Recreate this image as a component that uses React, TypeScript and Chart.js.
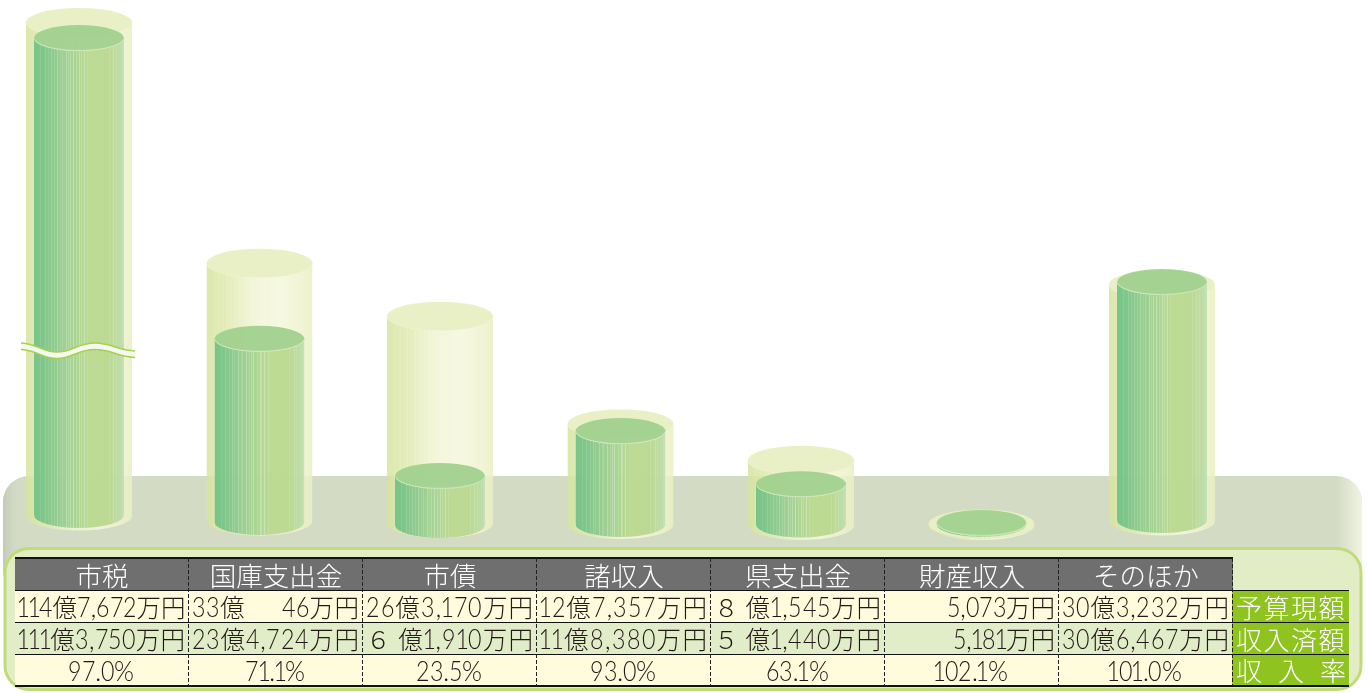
import React, { useEffect, useRef } from "react";
import { Chart, BarController, BarElement, CategoryScale, LinearScale } from "chart.js";

// ---------- data (億円) ----------
const categories = ["市税", "国庫支出金", "市債", "諸収入", "県支出金", "財産収入", "そのほか"];
const budgetValues = [114.7672, 33.0046, 26.317, 12.7357, 8.1545, 0.5073, 30.3232];
const receivedValues = [111.375, 23.4724, 6.191, 11.838, 5.144, 0.5181, 30.6467];
const budgetLabels = ["114億7,672万円", "33億　  46万円", "26億3,170万円", "12億7,357万円", "８ 億1,545万円", "5,073万円", "30億3,232万円"];
const receivedLabels = ["111億3,750万円", "23億4,724万円", "６ 億1,910万円", "11億8,380万円", "５ 億1,440万円", "5,181万円", "30億6,467万円"];
const rateLabels = ["97.0%", "71.1%", "23.5%", "93.0%", "63.1%", "102.1%", "101.0%"];
const rowHeads = ["予算現額", "収入済額", "収 入 率"];

// ---------- style constants ----------
const OUTER_BASE_SHIFT = [-9, -4, -1.5, -0.5, 0.5, 0.5, -4];
const INNER_BASE_SHIFT = [-10, -3, 0, -1, -0.5, -1, -5];
const TOP_SHIFT = [0, 0, 0, 0, 0, 3, 0];
const STRIPES: [number, number][] = [[0.07, 0.1], [0.12, 0.14], [0.16, 0.1], [0.19, 0.18], [0.22, 0.12], [0.26, 0.22], [0.29, 0.12], [0.31, 0.16], [0.35, 0.26], [0.38, 0.14], [0.4, 0.22], [0.43, 0.3], [0.47, 0.14], [0.5, 0.26], [0.52, 0.18], [0.55, 0.3], [0.59, 0.12], [0.83, 0.12], [0.88, 0.16], [0.91, 0.1]];
const INNER_STOPS: [number, string][] = [[0, "#70c184"], [0.1, "#76c386"], [0.3, "#93cb8d"], [0.5, "#aad48e"], [0.62, "#b8d88c"], [0.85, "#b8d78f"], [0.96, "#b9dba6"], [1, "#c5e0b5"]];
const OUTER_STOPS: [number, string][] = [[0, "#d6e49f"], [0.2, "#dfe9b0"], [0.45, "#f0f4d2"], [0.7, "#f4f7dc"], [0.9, "#eef2cc"], [1, "#e9efc3"]];

// Axis with a collapsed span, for the broken first column.
const squeeze = (v: number) => {
  if (v <= 40) return v;
  if (v <= 110) return 40 + ((v - 40) * 20.6) / 70;
  return 60.6 + (v - 110) * 0.58;
};
class BrokenScale extends LinearScale {
  static id = "brokenLinear";
  static defaults = LinearScale.defaults;
  getPixelForValue(value: number) {
    return super.getPixelForValue(squeeze(value));
  }
}

Chart.register(BarController, BarElement, CategoryScale, LinearScale, BrokenScale);

function drawCylinder(ctx: CanvasRenderingContext2D, x: number, top: number, base: number, w: number, ry: number, stops: [number, string][], cap: string, bodyAlpha: number, capAlpha: number, stripeScale: number, rim: boolean) {
  const l = x - w / 2;
  const r = x + w / 2;
  ctx.save();
  ctx.beginPath();
  ctx.moveTo(l, top);
  ctx.lineTo(l, base);
  ctx.ellipse(x, base, w / 2, ry, 0, Math.PI, 0, true);
  ctx.lineTo(r, top);
  ctx.ellipse(x, top, w / 2, ry, 0, 0, Math.PI, false);
  ctx.closePath();
  ctx.save();
  ctx.clip();
  const g = ctx.createLinearGradient(l, 0, r, 0);
  stops.forEach(([p, c]) => g.addColorStop(p, c));
  ctx.globalAlpha = bodyAlpha;
  ctx.fillStyle = g;
  ctx.fillRect(l, top - ry, w, base - top + 2 * ry + 1);
  ctx.fillStyle = "#ffffff";
  STRIPES.forEach(([s, a]) => {
    ctx.globalAlpha = a * stripeScale;
    ctx.fillRect(Math.round(l + s * w), top - ry, 1, base - top + 2 * ry + 1);
  });
  ctx.restore();
  ctx.globalAlpha = capAlpha;
  ctx.fillStyle = cap;
  ctx.beginPath();
  ctx.ellipse(x, top, w / 2, ry, 0, 0, Math.PI * 2);
  ctx.fill();
  if (rim) {
    ctx.globalAlpha = 0.55;
    ctx.strokeStyle = "#eef6e0";
    ctx.lineWidth = 1;
    ctx.beginPath();
    ctx.ellipse(x, top, w / 2 - 0.5, ry - 0.5, 0, 0.1, Math.PI - 0.1, false);
    ctx.stroke();
  }
  ctx.restore();
}

const backdropPlugin = {
  id: "backdrop",
  beforeDatasetsDraw(chart: any) {
    const ctx: CanvasRenderingContext2D = chart.ctx;
    ctx.save();
    ctx.beginPath();
    ctx.roundRect(3, 476, 1359, 120, 26);
    ctx.fillStyle = "#d3dbc5";
    ctx.fill();
    ctx.clip();
    const lg = ctx.createLinearGradient(3, 0, 21, 0);
    lg.addColorStop(0, "#c3cab6");
    lg.addColorStop(1, "rgba(211,219,197,0)");
    ctx.fillStyle = lg;
    ctx.fillRect(3, 476, 18, 120);
    const rg = ctx.createLinearGradient(1336, 0, 1362, 0);
    rg.addColorStop(0, "rgba(240,243,224,0)");
    rg.addColorStop(1, "#f2f4e4");
    ctx.fillStyle = rg;
    ctx.fillRect(1336, 476, 26, 120);
    ctx.restore();
    ctx.save();
    ctx.beginPath();
    ctx.roundRect(5, 548.5, 1356, 141, 24);
    ctx.fillStyle = "#e2edc6";
    ctx.fill();
    ctx.lineWidth = 3;
    ctx.strokeStyle = "#c0dc78";
    ctx.stroke();
    ctx.restore();
  },
};

const cylinderPlugin = {
  id: "cylinder",
  beforeDatasetDraw(chart: any, args: any) {
    const ctx: CanvasRenderingContext2D = chart.ctx;
    const inner = args.index === 1;
    args.meta.data.forEach((el: any, i: number) => {
      const top = el.y + TOP_SHIFT[i] + (inner && i === 5 ? -1 : 0);
      if (inner) {
        drawCylinder(ctx, el.x, top, Math.max(top, el.base + INNER_BASE_SHIFT[i]), el.width, 13, INNER_STOPS, "#9dcf8c", 0.92, 0.9, 1, true);
      } else {
        drawCylinder(ctx, el.x, top, el.base + OUTER_BASE_SHIFT[i], el.width, 14.5, OUTER_STOPS, "#e8f0c4", 0.86, 0.97, 0.7, false);
      }
    });
    return false;
  },
  afterDatasetsDraw(chart: any) {
    const ctx: CanvasRenderingContext2D = chart.ctx;
    const x = chart.getDatasetMeta(0).data[0].x;
    const wave = (dy: number) => {
      ctx.moveTo(x - 58, 343 + dy);
      ctx.bezierCurveTo(x - 40, 344 + dy, x - 38, 352 + dy, x - 22, 352 + dy);
      ctx.bezierCurveTo(x - 6, 352 + dy, x - 2, 343 + dy, x + 16, 343 + dy);
      ctx.bezierCurveTo(x + 32, 343 + dy, x + 38, 350 + dy, x + 56, 351 + dy);
    };
    ctx.save();
    ctx.beginPath();
    wave(0);
    ctx.lineTo(x + 56, 357);
    ctx.bezierCurveTo(x + 38, 356, x + 32, 349.5, x + 16, 349.5);
    ctx.bezierCurveTo(x - 2, 349.5, x - 6, 358, x - 22, 358);
    ctx.bezierCurveTo(x - 38, 358, x - 40, 350, x - 58, 349.5);
    ctx.closePath();
    ctx.fillStyle = "#f4f9ee";
    ctx.fill();
    ctx.strokeStyle = "#a8d04e";
    ctx.lineWidth = 1.5;
    ctx.beginPath();
    wave(0);
    ctx.stroke();
    ctx.beginPath();
    wave(6.5);
    ctx.stroke();
    ctx.restore();
  },
};

// ---------- table geometry ----------
const TX = 15;
const CW = 174;
const ROWS = [
  { y: 559, h: 31, bg: "#6f6f6f" },
  { y: 591, h: 31, bg: "#fffbdc" },
  { y: 623, h: 31, bg: "#e1edc9" },
  { y: 655, h: 30.5, bg: "#fffbdc" },
];
const CJK = '"Noto Sans CJK JP", sans-serif';
const NUM = 'Lato, "Noto Sans", sans-serif';
const NUM_SIZE = 27;
const DIGIT_SCALE = 0.86;

const glyphBox = (c: string) => {
  if (c === "1") return { w: 10.5, shift: -1.6, scale: DIGIT_SCALE };
  if (c === "," || c === ".") return { w: 5.5, shift: 0, scale: 1 };
  if (c === "%") return { w: 22, shift: 0, scale: 0.95 };
  return { w: 13.5, shift: 0, scale: DIGIT_SCALE };
};

// Condensed proportional digits; every figure stays real text.
function Figure({ text }: { text: string }) {
  return (
    <>
      {Array.from(text).map((c, j) => {
        if (!/[0-9,.%]/.test(c)) {
          return <span key={j} style={{ display: "inline-block", whiteSpace: "pre", fontFamily: CJK, fontSize: 24.5, fontWeight: 300 }}>{c}</span>;
        }
        const g = glyphBox(c);
        return (
          <span key={j} style={{ display: "inline-block", width: g.w, fontFamily: NUM, fontSize: NUM_SIZE, fontWeight: 300, textAlign: "left", transform: `translateX(${g.shift}px) scaleX(${g.scale})`, transformOrigin: "left center" }}>{c}</span>
        );
      })}
    </>
  );
}

const abs = (left: number, top: number, width: number, height: number, extra: React.CSSProperties = {}): React.CSSProperties => ({
  position: "absolute", left, top, width, height, ...extra,
});

function Row({ y, h, bg, texts, align, color, figure }: { y: number; h: number; bg: string; texts: string[]; align: "right" | "center"; color: string; figure: boolean }) {
  return (
    <>
      {texts.map((t, i) => {
        // amounts that run to 億 fill the whole cell
        const fill = t.includes("億");
        return (
          <div key={i} style={abs(TX + i * CW, y, CW, h, {
            background: bg, color, fontFamily: CJK, fontSize: figure ? 25 : 26.5, fontWeight: 300, lineHeight: h + "px", textAlign: align,
            whiteSpace: "pre", boxSizing: "border-box", paddingRight: align === "right" ? 4 : 0,
            ...(fill ? { display: "flex", justifyContent: "space-between", paddingLeft: 3, paddingRight: 4 } : {}),
          })}>{figure ? <Figure text={t} /> : t}</div>
        );
      })}
    </>
  );
}

export default function App() {
  const ref = useRef<HTMLCanvasElement>(null);
  useEffect(() => {
    const chart = new Chart(ref.current!, {
      type: "bar",
      data: {
        labels: categories,
        datasets: [
          { label: "予算現額", data: budgetValues, order: 2, barThickness: 106, backgroundColor: "#e8f0c4", clip: false } as any,
          { label: "収入済額", data: receivedValues, order: 1, barThickness: 90, backgroundColor: "#9dcf8c", clip: false } as any,
        ],
      },
      options: {
        animation: false,
        responsive: false,
        layout: { padding: { left: 79, right: 207, top: 0, bottom: 168 } },
        plugins: { legend: { display: false }, tooltip: { enabled: false } } as any,
        datasets: { bar: { grouped: false } } as any,
        scales: {
          x: { type: "category", display: false, offset: false, grid: { display: false } },
          y: { type: "brokenLinear", display: false, min: 0, max: 66.2 } as any,
        },
      },
      plugins: [backdropPlugin, cylinderPlugin],
    });
    return () => chart.destroy();
  }, []);

  return (
    <div style={{ position: "absolute", left: 0, top: 0, width: 1369, height: 693, overflow: "hidden", fontFamily: CJK, background: "#fff" }}>
      <canvas ref={ref} width={1369} height={693} style={{ display: "block", width: 1369, height: 693 }} />
      <Row y={ROWS[0].y} h={ROWS[0].h} bg={ROWS[0].bg} texts={categories} align="center" color="#fff" figure={false} />
      <Row y={ROWS[1].y} h={ROWS[1].h} bg={ROWS[1].bg} texts={budgetLabels} align="right" color="#231815" figure />
      <Row y={ROWS[2].y} h={ROWS[2].h} bg={ROWS[2].bg} texts={receivedLabels} align="right" color="#231815" figure />
      <Row y={ROWS[3].y} h={ROWS[3].h} bg={ROWS[3].bg} texts={rateLabels} align="center" color="#231815" figure />
      {rowHeads.map((t, i) => (
        <div key={t} style={abs(1232, ROWS[i + 1].y, 117, ROWS[i + 1].h, {
          background: "#8fc31f", color: "#fff", fontSize: 26, fontWeight: 300, lineHeight: ROWS[i + 1].h + "px",
          textAlign: "justify", textAlignLast: "justify", paddingLeft: 4, paddingRight: 3, boxSizing: "border-box", whiteSpace: "normal",
        })}>{t.includes(" ") ? t : <span style={{ letterSpacing: 1.5 }}>{t}</span>}</div>
      ))}
      <div style={abs(TX, 557, CW * 7, 2, { background: "#111" })} />
      <div style={abs(TX, 590, 1334, 1, { background: "#111" })} />
      <div style={abs(TX, 622, 1334, 1, { background: "#111" })} />
      <div style={abs(TX, 654, 1334, 1, { background: "#111" })} />
      <div style={abs(TX, 685, 1334, 2, { background: "#111" })} />
      {[1, 2, 3, 4, 5, 6, 7].map((i) => (
        <div key={i} style={abs(TX + i * CW - 1, 558, 1, 128, { background: "repeating-linear-gradient(to bottom,#222 0 4px,transparent 4px 6px)" })} />
      ))}
    </div>
  );
}
